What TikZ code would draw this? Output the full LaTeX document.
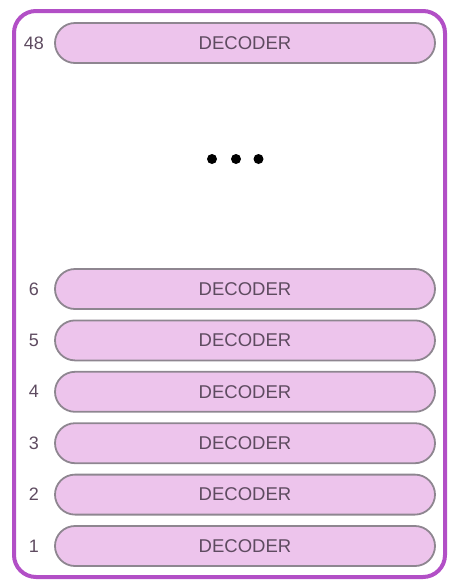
\documentclass[tikz,border=0pt]{standalone}
\usepackage{fontspec}
\setmainfont{Liberation Sans}
\usetikzlibrary{positioning}
\definecolor{framepurple}{HTML}{B24FC6}
\definecolor{decfill}{HTML}{EDC4EC}
\definecolor{decedge}{HTML}{8E8690}
\definecolor{labelink}{HTML}{5E4B60}

\tikzset{
  decoderbox/.style={draw=decedge, line width=1.8pt, fill=decfill,
    rounded corners=20pt, minimum width=380pt, minimum height=40pt,
    inner sep=0pt, text=labelink, font=\fontsize{18.5}{22}\selectfont},
  layernum/.style={text=labelink, inner sep=0pt, font=\fontsize{18}{22}\selectfont}
}

\begin{document}
\begin{tikzpicture}[x=1pt,y=-1pt]
\useasboundingbox (0,0) rectangle (448,582);
% outer frame
\draw[framepurple, line width=4pt, rounded corners=22pt] (14,11) rectangle (445,577);

% top layer
\node[decoderbox] (dec48) at (245,43) {DECODER};
\node[layernum] (num48) at (34,43) {48};

% ellipsis
\fill (212,159) circle (5);
\fill (236,159) circle (5);
\fill (258.5,159) circle (5);

% first six layers
\foreach \i in {1,...,6}{
  \pgfmathsetmacro{\ypos}{546-(\i-1)*51.4}
  \node[decoderbox] (dec\i) at (245,\ypos) {DECODER};
  \node[layernum] (num\i) at (34,\ypos) {\i};
}
\end{tikzpicture}
\end{document}
